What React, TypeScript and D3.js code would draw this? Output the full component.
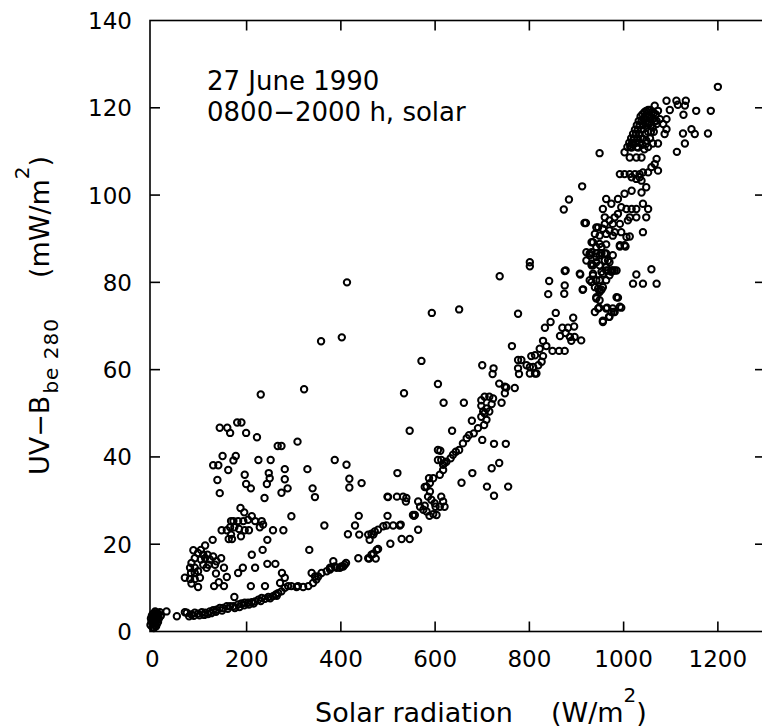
import React from "react";
import * as d3 from "d3";

type Pt = [number, number];

// [solar radiation (W/m2), UV-B be280 (mW/m2)]
const originCluster: Pt[] = [
  [-4,1.5],[-3,3],[-2,2.2],[0,1],[0,2.8],[1,4],[2,1.8],[2,3.4],[3,0.8],[4,2.5],[4,4.2],[5,1.5],[6,3.2],[7,2.2],[8,3.8],[8,1.2],[9,2.8],[10,4.2],[11,3.4],[12,2.2],[13,4],[14,3],[16,4.4],[18,3.6],[6,4.6],[3,3.8],[-1,3.6],[10,1.8],[30,4.6],[52,3.5]
];

const lowerBand: Pt[] = [
  [69,4.4],[73,4.3],[78,3.5],[83,3.9],[88,3.6],[90,4.3],[97,4.1],[100,3.7],[105,4.4],[110,3.8],[112,4.3],[118,4],[122,4.6],[125,4.2],[129,4.9],[135,4.5],[136,5],[143,5.4],[148,4.8],[150,5.4],[158,5.8],[160,5.2],[165,5.8],[172,5.8],[175,5.4],[182,6.2],[185,5.6],[189,6.4],[195,6],[196,6.6],[203,6.6],[205,6.2],[211,6.7],[215,6.4],[218,6.9],[225,7.3],[230,7],[232,7.7],[239,7.5],[246,7.9],[250,7.6],[256,8.1],[262,8.5],[264,8.2],[267,8.8],[274,9.2],[281,10],[288,10.4],[295,10.4],[306,10.2],[309,10.4],[320,10.2],[331,10.4],[338,13.4],[341,11.1],[345,12.6],[348,11.9],[352,12.6],[359,13.4],[370,13.8],[377,14.6],[380,14.6],[384,16.1],[387,14.9],[391,14.6],[398,14.6],[401,14.9],[405,14.9],[408,15.3],[411,15.7],[377,14.2]
];

const morningScatter: Pt[] = [
  [69,12.3],[80,12],[80,14.6],[82,13.4],[83,11],[83,15.7],[87,18.6],[90,12],[90,13.4],[90,14.6],[90,16.8],[97,10.2],[97,13.8],[97,18],[101,12.3],[103,16.5],[103,18.7],[108,15.3],[108,17.6],[112,16.8],[112,19.7],[115,14.6],[117,17.6],[119,15.3],[122,16.5],[128,21],[129,17.2],[131,10.4],[133,15.3],[135,13.3],[136,16.1],[141,11.3],[146,16.8],[152,10.4],[152,14.6],[158,12.5],[174,7.9],[182,13.4],[192,14.6],[209,10.4],[211,17.6],[218,14.6],[234,18.7],[239,10.4],[244,15.5],[244,21],[261,15.5],[271,11.1],[275,13.4],[281,12.3],
  [147,23.2],[158,23.2],[162,21.2],[165,23.9],[167,22.2],[167,25.3],[169,21.2],[172,25.3],[174,23.9],[182,25.3],[184,23.5],[187,28.3],[188,21.8],[193,25.3],[195,27.3],[196,23.2],[203,25.6],[205,23.2],[211,26.4],[218,25.3],[228,23.9],[232,25.3],[235,24.5],[256,23.2],[278,23.2],[295,26.4],[333,18.7],[365,24.3],
  [129,38.1],[138,34.7],[140,38.1],[143,31.7],[143,46.7],[149,40.2],[159,46.7],[161,37],[165,45.5],[172,39.2],[177,40.2],[180,47.9],[189,47.9],[196,35.9],[199,33.8],[199,45.5],[209,32.8],[222,44.5],[225,39.3],[230,54.3],[238,30.6],[243,33.8],[247,36.3],[249,35.1],[251,39.3],[266,42.5],[274,31.8],[274,42.5],[281,34.9],[281,37.2],[287,32.8],[308,43.5],[322,55.5],[329,37.2],[340,32.8],[345,30.8],[358,66.5],[387,39.3],[402,67.4],[412,38.2],[413,80],[418,33],[418,35],[444,34]
];

const midBand: Pt[] = [
  [415,22.3],[430,24.3],[437,16.8],[438,26.5],[439,22.2],[458,16.8],[458,22.2],[460,16.7],[461,21],[465,17.6],[465,22.4],[469,17.8],[469,22.2],[472,22.9],[474,16.7],[476,18.7],[479,18.9],[479,23.3],[490,24.1],[497,24.3],[499,26.5],[499,30.9],[500,30.8],[505,20.1],[511,24.3],[519,30.9],[520,36.3],[525,24.3],[527,24.5],[529,21.2],[532,30.9],[534,54.6],[538,29.8],[539,30.6],[546,21.2],[546,46],[553,26.7],[555,26.5],[557,26.7],[564,23.3],[564,29.8],[568,28.6],[571,62],[575,27.9],[578,28.8],[578,33.1],[582,33.2],[582,27.5],[585,30.9],[587,35.1],[588,26.5],[589,32.1],[589,34],[592,30.2],[593,73],[596,26.9],[596,35.1],[599,29.4],[601,28.6],[603,26.7],[606,39.3],[606,41.6],[606,56.7],[610,28.6],[610,35.9],[611,41.4],[613,30.9],[613,39.3],[617,29.8],[617,37],[617,38.2],[618,52.4],[620,28.6],[620,38.6],[624,38.9],[633,39.7],[636,46],[638,40.5],[644,41.2],[651,41.6],[651,73.8],[656,34.1],[659,43.1],[661,52.4],[667,44.3],[672,45],[678,48.3],[679,36.3],[682,45.4],[691,46.6],[698,49.2],[698,51.7],[698,53],[700,43.9],[700,61],[702,50.4],[704,47.3],[705,50],[705,53.8],[709,48.5],[709,51.1],[710,33.2],[715,50.4],[715,53.8],[720,37.4],[720,52.1],[722,59],[723,53.4],[724,60.3],[725,31.1],[725,43],[736,38.6],[736,56.8],[737,81.4],[741,52.4],[748,54.6],[748,56.1],[750,43],[751,55.9],[755,33.2],[763,65.4],[769,55.8]
];

const upperBand: Pt[] = [
  [776,60.3],[776,62.2],[776,72.8],[778,59],[783,62.2],[794,61],[801,59.1],[801,60.6],[801,83.7],[801,84.6],[804,63.1],[808,60.6],[812,59.1],[812,63.3],[815,59.1],[819,61],[822,64.8],[826,61.8],[829,63.1],[829,66.6],[833,69.6],[836,65.4],[840,77.3],[842,80.3],[845,70.9],[849,64.3],[856,73],[863,64.3],[865,67.7],[870,69.6],[873,96.7],[874,77.4],[875,64.3],[875,79.3],[875,82.6],[877,68.4],[877,82.7],[882,69.6],[884,99],[886,67.5],[889,66.6],[893,71.9],[895,69.9],[896,67.5],[907,82],[908,81.8],[910,66.7],[912,102],[913,78.3],[914,78.4],[917,93.6],[920,93.6],[921,85],[921,86.9],[928,80.5],[928,86.2],[928,86.6],[932,80.1],[932,83.9],[932,84.3],[932,86.9],[932,89.2],[935,81.6],[935,82],[935,83.9],[935,89.2],[939,73.2],[939,78.9],[939,91.1],[942,76.3],[942,76.6],[942,80.5],[942,84.6],[942,85.8],[942,86.6],[942,88.1],[942,92.6],[946,74],[946,78.6],[946,92.6],[948,74.2],[949,75.9],[949,77.8],[949,78.2],[949,80.5],[949,83.9],[949,86.2],[949,88.8],[949,90.7],[949,109.6],[953,78.3],[953,82.4],[953,86.7],[953,88.1],[956,70.9],[956,71.2],[956,78.9],[956,82],[956,92.3],[956,96.8],[960,85],[960,86.6],[960,93.4],[960,94.9],[963,74],[963,80.5],[963,82.7],[963,83.5],[963,86.6],[963,88.7],[963,91.1],[963,99.1],[965,74.2],[967,82.7],[967,85],[969,72.1],[970,72.1],[970,81.6],[970,84.6],[970,91.9],[970,94.2],[974,73.2],[974,82.4],[974,82.7],[974,98],[977,74],[977,82.7],[977,86.2],[977,90.7],[977,93.4],[979,73.2],[981,73.2],[981,82.7],[981,91.5],[981,94.9],[985,76.6],[985,82.7],[988,76.5],[988,95.7],[988,99.1],[992,74.4],[992,88.2],[992,88.5],[992,93.4],[992,104.8],[995,74.2],[995,91.5],[995,97.2],[1002,88.5],[1002,100.3],[1002,104.8],[1002,109.8],[1004,88.2],[1006,90.4],[1006,96.8],[1009,94.2],[1013,90.5],[1013,94.9],[1013,104.8],[1013,108.6],[1017,96.8],[1017,101],[1017,104.1],[1017,110.9],[1020,79.7],[1024,104.8],[1027,81.8],[1027,94.9],[1027,96.8],[1027,103.7],[1027,108.6],[1031,110.9],[1034,104.1],[1034,104.8],[1038,100.6],[1038,103.3],[1038,108.6],[1041,79.7],[1041,91.5],[1041,98],[1041,105.2],[1048,94.9],[1048,101.8],[1048,111.8],[1052,96.8],[1052,105.2],[1059,83],[1059,106.4],[1062,111.8],[1066,107.1],[1070,79.7],[1070,108.3],[1073,105.6],[1073,111.8]
];

const peakCluster: Pt[] = [
  [1008,111],[1012,112],[1016,113],[1020,114],[1024,115],[1028,116],[1032,117],[1036,118],[1040,118.5],[1044,119],[1048,119.3],[1052,119.5],[1056,119.5],[1060,119],[1064,118.8],[1068,118.5],[1014,111],[1018,112],[1022,113],[1026,114],[1030,115],[1034,116],[1038,117],[1042,117.5],[1046,118],[1050,118],[1054,118],[1058,117.8],[1062,117.5],[1066,117],[1070,117],[1020,111.5],[1026,112],[1030,113],[1034,114],[1038,115],[1042,116],[1046,116.5],[1050,116.5],[1054,116.3],[1058,116],[1062,115.5],[1028,111],[1034,112],[1040,113],[1046,114],[1052,114.5],[1058,114.5],[1064,114.5],[1040,111.5],[1048,112.5],[1056,113],[1044,110.5],[1052,111],
  [1066,120.5],[1073,119.3],[1077,117.4],[1084,116.3],[1087,114],[1091,117.4],[1091,115.1],[1091,121.6],[1098,119.5],[1112,121.6],[1113,109.9],[1115,120.7],[1126,114.1],[1127,118.4],[1130,111.8],[1130,120.5],[1132,121.6],[1144,115.1],[1151,114],[1154,119.3],[1179,114.1],[1185,119.3],[1200,124.8],[1070,116.3]
];

const xTicks = [0, 200, 400, 600, 800, 1000, 1200];
const yTicks = [0, 20, 40, 60, 80, 100, 120, 140];
const annotationLines = ["27 June 1990", "0800\u22122000 h, solar"];

const W = 762;
const H = 727;
const left = 150;
const right = 765;
const top = 20.5;
const bottom = 631.5;

const FONT = "'DejaVu Sans', sans-serif";

export default function App() {
  const x = d3.scaleLinear().domain([-5, 1300]).range([left, right]);
  const y = d3.scaleLinear().domain([0, 140]).range([bottom, top]);
  const all: Pt[] = [
    ...originCluster,
    ...lowerBand,
    ...morningScatter,
    ...midBand,
    ...upperBand,
    ...peakCluster,
  ];
  const tickLen = 10;
  return (
    <svg
      width={W}
      height={H}
      style={{ position: "absolute", left: 0, top: 0, background: "#fff" }}
      fontFamily={FONT}
    >
      <rect x={0} y={0} width={W} height={H} fill="#fff" />
      <rect
        x={left}
        y={top}
        width={right - left}
        height={bottom - top}
        fill="none"
        stroke="#000"
        strokeWidth={1.6}
      />
      {xTicks.filter((t) => t > 0).map((t) => (
        <g key={"xt" + t}>
          <line x1={x(t)} x2={x(t)} y1={bottom} y2={bottom - tickLen} stroke="#000" strokeWidth={1.6} />
          <line x1={x(t)} x2={x(t)} y1={top} y2={top + tickLen} stroke="#000" strokeWidth={1.6} />
        </g>
      ))}
      {xTicks.map((t) => (
        <text key={"xl" + t} x={x(t)} y={667} fontSize={23} textAnchor="middle" fill="#000">
          {t}
        </text>
      ))}
      {yTicks.filter((t) => t > 0 && t < 140).map((t) => (
        <g key={"yt" + t}>
          <line x1={left} x2={left + tickLen} y1={y(t)} y2={y(t)} stroke="#000" strokeWidth={1.6} />
          <line x1={right} x2={right - tickLen} y1={y(t)} y2={y(t)} stroke="#000" strokeWidth={1.6} />
        </g>
      ))}
      {yTicks.map((t) => (
        <text key={"yl" + t} x={132} y={y(t) + 8.5} fontSize={23} textAnchor="end" fill="#000">
          {t}
        </text>
      ))}
      {all.map((p, i) => (
        <circle
          key={i}
          cx={x(p[0])}
          cy={y(p[1])}
          r={3.2}
          fill="none"
          stroke="#000"
          strokeWidth={2}
        />
      ))}
      {annotationLines.map((s, i) => (
        <text key={"an" + i} x={207} y={90 + i * 31} fontSize={26} fill="#000">
          {s}
        </text>
      ))}
      <text x={315} y={722} fontSize={27} fill="#000">
        Solar radiation
        <tspan dx={38}>(W/m</tspan>
        <tspan fontSize={20} dy={-20}>2</tspan>
        <tspan dy={20}>)</tspan>
      </text>
      <text transform="rotate(-90)" x={-475} y={49} fontSize={27} fill="#000">
        UV{"\u2212"}B
        <tspan fontSize={20} dy={9} dx={2} letterSpacing={1}>be 280</tspan>
        <tspan dy={-9} dx={40}>(mW/m</tspan>
        <tspan fontSize={20} dy={-20}>2</tspan>
        <tspan dy={20}>)</tspan>
      </text>
    </svg>
  );
}
